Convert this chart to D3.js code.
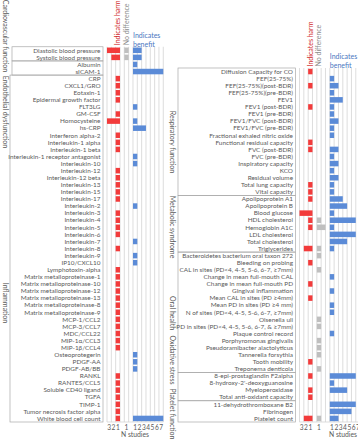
<!DOCTYPE html>
<html><head><meta charset="utf-8">
<script src="https://cdn.jsdelivr.net/npm/d3@7"></script>
<style>
html,body{margin:0;padding:0;background:#fff;}
svg{display:block;}
text{font-family:Lato,"Liberation Sans",Arial,sans-serif;}
</style></head>
<body><svg id="c" width="358" height="440"></svg>
<script>
// ---------- DATA ----------
const leftCategories = ["Diastolic blood pressure","Systolic blood pressure","Albumin","sICAM-1","CRP","CXCL1/GRO","Eotaxin-1","Epidermal growth factor","FLT3LG","GM-CSF","Homocysteine","hs-CRP","Interferon alpha-2","Interleukin-1 alpha","Interleukin-1 beta","Interleukin-1 receptor antagonist","Interleukin-10","Interleukin-12","Interleukin-12 beta","Interleukin-13","Interleukin-15","Interleukin-17","Interleukin-2","Interleukin-3","Interleukin-4","Interleukin-5","Interleukin-6","Interleukin-7","Interleukin-8","Interleukin-9","IP10/CXCL10","Lymphotoxin-alpha","Matrix metalloproteinase-1","Matrix metalloproteinase-10","Matrix metalloproteinase-12","Matrix metalloproteinase-13","Matrix metalloproteinase-8","Matrix metalloproteinase-9","MCP-1/CCL2","MCP-3/CCL7","MDC/CCL22","MIP-1α/CCL3","MIP-1β/CCL4","Osteoprotegerin","PDGF-AA","PDGF-AB/BB","RANKL","RANTES/CCL5","Soluble CD40 ligand","TGFA","TIMP-1","Tumor necrosis factor alpha","White blood cell count"];
const leftHarm    = [3,2,0,0,1,1,1,1,0,1,3,0,1,1,1,0,0,1,1,1,1,1,0,1,1,1,1,0,1,0,0,1,1,1,1,1,1,1,1,1,1,1,1,0,0,0,1,1,1,1,1,1,1];
const leftNoDiff  = [1,1,0,0,0,0,0,0,0,0,0,0,0,0,0,0,0,0,0,0,0,0,0,0,0,0,0,0,0,0,0,0,0,0,0,0,0,0,0,0,0,0,0,0,0,0,0,0,0,0,0,0,0];
const leftBenefit = [2,2,1,7,0,0,0,0,1,0,1,3,0,0,0,1,1,0,0,0,0,0,1,0,0,0,0,1,0,1,1,0,0,0,0,0,0,0,0,0,0,0,0,1,1,1,0,0,0,0,0,0,7];
const leftGroups = [
  {name:"Cardiovascular function", first:"Diastolic blood pressure", last:"Systolic blood pressure"},
  {name:"Endothelial dysfunction", first:"Albumin", last:"sICAM-1"},
  {name:"Inflammation", first:"CRP", last:"White blood cell count"}
];

const rightCategories = ["Diffusion Capacity for CO","FEF(25-75%)","FEF(25-75%)(post-BDR)","FEF(25-75%)(pre-BDR)","FEV1","FEV1 (post-BDR)","FEV1 (pre-BDR)","FEV1/FVC (post-BDR)","FEV1/FVC (pre-BDR)","Fractional exhaled nitric oxide","Functional residual capacity","FVC (post-BDR)","FVC (pre-BDR)","Inspiratory capacity","KCO","Residual volume","Total lung capacity","Vital capacity","Apolipoprotein A1","Apolipoprotein B","Blood glucose","HDL cholesterol","Hemoglobin A1C","LDL cholesterol","Total cholesterol","Triglycerides","Bacteroidetes bacterium oral taxon 272","Bleeding on probing","CAL in sites (PD<4, 4-5, 5-6, 6-7, ≥7mm)","Change in mean full-mouth CAL","Change in mean full-mouth PD","Gingival inflammation","Mean CAL in sites (PD ≥4mm)","Mean PD in sites (PD ≥4 mm)","N of sites (PD<4, 4-5, 5-6, 6-7, ≥7mm)","Olsenella uli","PD in sites (PD<4, 4-5, 5-6, 6-7, & ≥7mm)","Plaque control record","Porphyromonas gingivalis","Pseudoramibacter alactolyticus","Tannerella forsythia","Tooth mobility","Treponema denticola","8-epi-prostaglandin F2alpha","8-hydroxy-2'-deoxyguanosine","Myeloperoxidase","Total anti-oxidant capacity","11-dehydrothromboxane B2","Fibrinogen","Platelet count"];
const rightHarm    = [1,0,1,0,0,1,0,0,0,0,1,1,0,0,0,0,1,1,1,0,3,1,1,0,0,2,0,1,0,0,1,0,1,0,0,0,0,0,0,0,0,1,0,1,0,1,1,0,0,2];
const rightNoDiff  = [0,0,0,0,0,0,0,0,0,0,0,0,0,0,0,0,0,0,0,0,0,1,2,0,0,1,1,0,1,0,0,0,0,0,0,1,1,0,1,1,1,0,1,0,0,0,0,0,0,1];
const rightBenefit = [0,1,2,1,3,1,1,2,1,1,0,2,1,2,1,2,1,1,3,4,1,6,1,6,4,1,0,0,0,1,0,1,0,1,1,0,0,1,0,0,0,0,0,6,1,4,0,6,5,2];
const rightGroups = [
  {name:"Respiratory function", first:"Diffusion Capacity for CO", last:"Vital capacity"},
  {name:"Metabolic syndrome", first:"Apolipoprotein A1", last:"Triglycerides"},
  {name:"Oral health", first:"Bacteroidetes bacterium oral taxon 272", last:"Treponema denticola"},
  {name:"Oxidative stress", first:"8-epi-prostaglandin F2alpha", last:"Total anti-oxidant capacity"},
  {name:"Platelet function", first:"11-dehydrothromboxane B2", last:"Platelet count"}
];

const harmTicks = ["3","2","1"];
const noDiffTicks = ["1"];
const benefitTicks = ["1","2","3","4","5","6","7"];
const headerHarm = "Indicates harm";
const headerNoDiff = "No difference";
const headerBenefit = ["Indicates","benefit"];
const axisTitle = "N studies";

// ---------- LAYOUT ----------
const COL = {harm:"#f23b3b", nodiff:"#bfbfbf", benefit:"#5b8bd7", grid:"#d4d4d4", text:"#595959", box:"#a8a8a8",
             hHarm:"#d02a2a", hNo:"#8c8c8c", hBen:"#4a76c0"};
const svg = d3.select("#c");
const U = 4.33, ROWH = 7.08, BOTTOM = 422;

function panel(o){
  const n = o.cats.length;
  const top = BOTTOM - n*ROWH;
  const y = d3.scaleBand().domain(o.cats).range([top, BOTTOM]);
  const x0 = o.x0, nd = o.ndMax;
  const xHarm = d3.scaleLinear().domain([0,3]).range([x0+3*U, x0]);
  const xNo = d3.scaleLinear().domain([0,nd]).range([x0+4*U, x0+(4+nd)*U]);
  const xBen = d3.scaleLinear().domain([0,7]).range([x0+(5+nd)*U, x0+(12+nd)*U]);
  const nCols = 12+nd;
  const g = svg.append("g");

  // grid
  g.selectAll("line.grid").data(d3.range(nCols+1)).join("line")
    .attr("x1",i=>x0+i*U).attr("x2",i=>x0+i*U).attr("y1",top).attr("y2",BOTTOM)
    .attr("stroke",COL.grid).attr("stroke-width",0.8);

  // group boxes
  o.groups.forEach((gr,i)=>{
    const y1 = y(gr.first), y2 = y(gr.last)+ROWH;
    g.append("rect").attr("x",o.boxX[i]).attr("y",y1).attr("width",x0-4-o.boxX[i]).attr("height",y2-y1)
      .attr("fill","none").attr("stroke",COL.box).attr("stroke-width",0.7);
    g.append("text").attr("transform",`translate(${o.gx},${o.gy[i]}) rotate(90)`)
      .attr("text-anchor","middle").attr("dy","0.35em").attr("font-size",7).attr("fill",COL.text).text(gr.name);
  });

  // category labels
  g.selectAll("text.cat").data(o.cats).join("text")
    .attr("x",o.labelX).attr("y",d=>y(d)+ROWH/2).attr("dy","0.35em")
    .attr("text-anchor","end").attr("font-size",6.4).attr("fill",COL.text).text(d=>d);

  const bh = ROWH*0.78, off = (ROWH-bh)/2;
  const rows = o.cats.map((c,i)=>({c, h:o.harm[i], n:o.nd[i], b:o.ben[i]}));
  g.selectAll("rect.h").data(rows.filter(d=>d.h>0)).join("rect")
    .attr("x",d=>xHarm(d.h)).attr("width",d=>xHarm(0)-xHarm(d.h)).attr("y",d=>y(d.c)+off).attr("height",bh).attr("fill",COL.harm);
  g.selectAll("rect.n").data(rows.filter(d=>d.n>0)).join("rect")
    .attr("x",xNo(0)).attr("width",d=>xNo(d.n)-xNo(0)).attr("y",d=>y(d.c)+off).attr("height",bh).attr("fill",COL.nodiff);
  g.selectAll("rect.b").data(rows.filter(d=>d.b>0)).join("rect")
    .attr("x",xBen(0)).attr("width",d=>xBen(d.b)-xBen(0)).attr("y",d=>y(d.c)+off).attr("height",bh).attr("fill",COL.benefit);

  // axes
  const bHarm = d3.scaleBand().domain(harmTicks).range([x0, x0+3*U]);
  const bNo = d3.scaleBand().domain(noDiffTicks).range([x0+4*U, x0+5*U]);
  const bBen = d3.scaleBand().domain(benefitTicks).range([xBen(0), xBen(7)]);
  [bHarm,bNo,bBen].forEach(s=>{
    const a = g.append("g").attr("transform",`translate(0,${BOTTOM+1})`).call(d3.axisBottom(s).tickSize(0).tickPadding(2));
    a.select(".domain").remove();
    a.selectAll("text").attr("font-size",6.6).attr("fill",COL.text).attr("font-family","Lato, Liberation Sans, sans-serif");
  });
  g.append("line").attr("x1",x0).attr("x2",x0+nCols*U).attr("y1",BOTTOM).attr("y2",BOTTOM).attr("stroke",COL.grid).attr("stroke-width",0.8);
  g.append("text").attr("x",o.titleX).attr("y",BOTTOM+15).attr("text-anchor","middle").attr("font-size",6.8).attr("fill",COL.text).text(axisTitle);

  // headers
  g.append("text").attr("transform",`translate(${xHarm(0.5)+2.3},${top-1.5}) rotate(-90)`).attr("font-size",7).attr("fill",COL.hHarm).text(headerHarm);
  g.append("text").attr("transform",`translate(${x0+4.5*U+2.3},${top-1.5}) rotate(-90)`).attr("font-size",7).attr("fill",COL.hNo).text(headerNoDiff);
  headerBenefit.forEach((t,i)=>{
    g.append("text").attr("x",xBen(0)).attr("y",top-11+i*8.3).attr("dy","0.35em").attr("font-size",7).attr("fill",COL.hBen).text(t);
  });
}

panel({cats:leftCategories, harm:leftHarm, nd:leftNoDiff, ben:leftBenefit, groups:leftGroups,
       x0:107, ndMax:1, labelX:100.5, boxX:[12,12,10], gx:5, gy:[36,112,303], titleX:135});
panel({cats:rightCategories, harm:rightHarm, nd:rightNoDiff, ben:rightBenefit, groups:rightGroups,
       x0:299.5, ndMax:2, labelX:293, boxX:[178,178,178,178,178], gx:172, gy:[142,227,313,360,414], titleX:343});
</script></body></html>
